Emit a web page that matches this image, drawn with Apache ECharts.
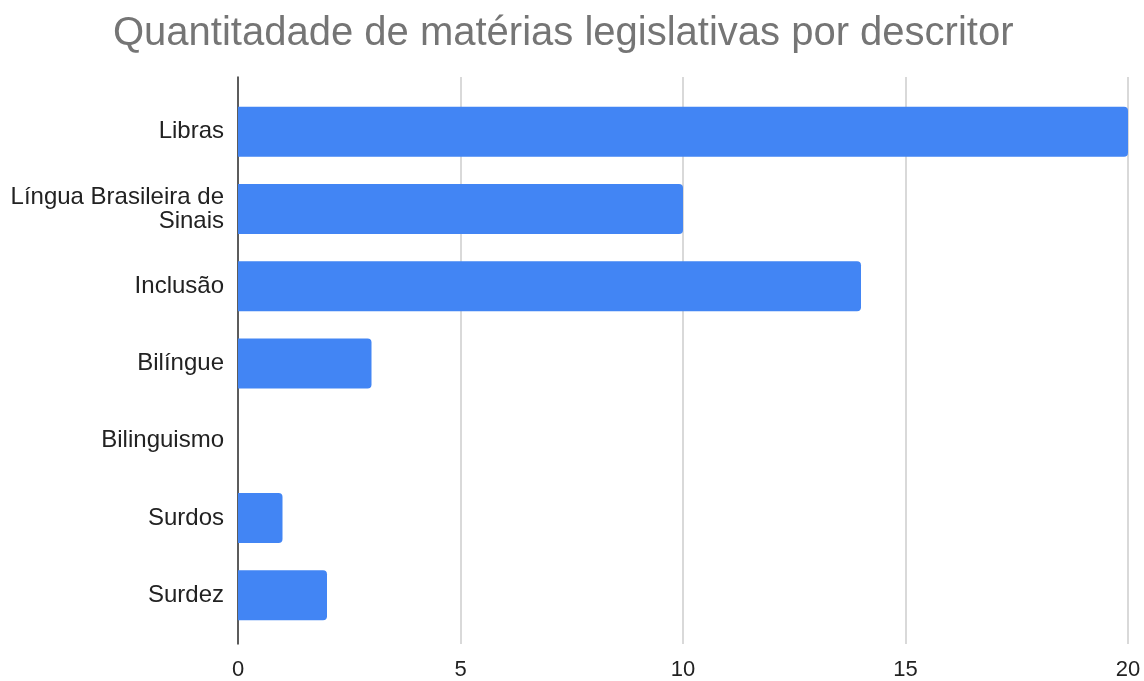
<!DOCTYPE html>
<html>
<head>
<meta charset="utf-8">
<script src="https://cdn.jsdelivr.net/npm/echarts@6/dist/echarts.min.js"></script>
<style>
  html, body { margin: 0; padding: 0; background: #fff; }
  #chart { width: 1144px; height: 681px; }
</style>
</head>
<body>
<div id="chart"></div>
<script>
// dados do gráfico
var categorias = ['Libras', 'Língua Brasileira de\nSinais', 'Inclusão', 'Bilíngue', 'Bilinguismo', 'Surdos', 'Surdez']
var quantidades = [20, 10, 14, 3, 0, 1, 2]
var eixo_x = { min: 0, max: 20, interval: 5 }

var chart = echarts.init(document.getElementById('chart'))

var fonte = 'Arial, "Liberation Sans", sans-serif'

chart.setOption({
  animation: false,
  title: {
    text: 'Quantitadade de matérias legislativas por descritor',
    left: 108,
    top: 9,
    textStyle: { fontFamily: fonte, fontSize: 40, fontWeight: 'normal', color: '#757575' }
  },
  // grid 0: linhas de grade e eixo; grid 1: barras
  grid: [
    { left: 238, right: 16, top: 77, bottom: 34 },
    { left: 238, right: 16, top: 93, bottom: 47 }
  ],
  xAxis: [{
    gridIndex: 0,
    type: 'value',
    min: eixo_x.min, max: eixo_x.max, interval: eixo_x.interval,
    axisLine: { show: false },
    axisTick: { show: false },
    splitLine: { lineStyle: { color: '#cccccc', width: 1.5 } },
    axisLabel: { fontFamily: fonte, fontSize: 22, color: '#222', margin: 15 }
  }, {
    gridIndex: 1,
    type: 'value',
    min: eixo_x.min, max: eixo_x.max,
    show: false
  }],
  yAxis: [{
    gridIndex: 0,
    type: 'value',
    axisLine: { show: true, lineStyle: { color: '#333', width: 1.5 } },
    axisTick: { show: false },
    axisLabel: { show: false },
    splitLine: { show: false }
  }, {
    gridIndex: 1,
    type: 'category',
    inverse: true,
    data: categorias,
    axisLine: { show: false },
    axisTick: { show: false },
    axisLabel: { fontFamily: fonte, fontSize: 24, color: '#222', margin: 14, lineHeight: 24, align: 'right' }
  }],
  series: [{
    type: 'bar',
    xAxisIndex: 1,
    yAxisIndex: 1,
    data: quantidades,
    barWidth: 50,
    itemStyle: { color: '#4285F4', borderRadius: [0, 4, 4, 0] },
    z: 5
  }]
})
</script>
</body>
</html>
